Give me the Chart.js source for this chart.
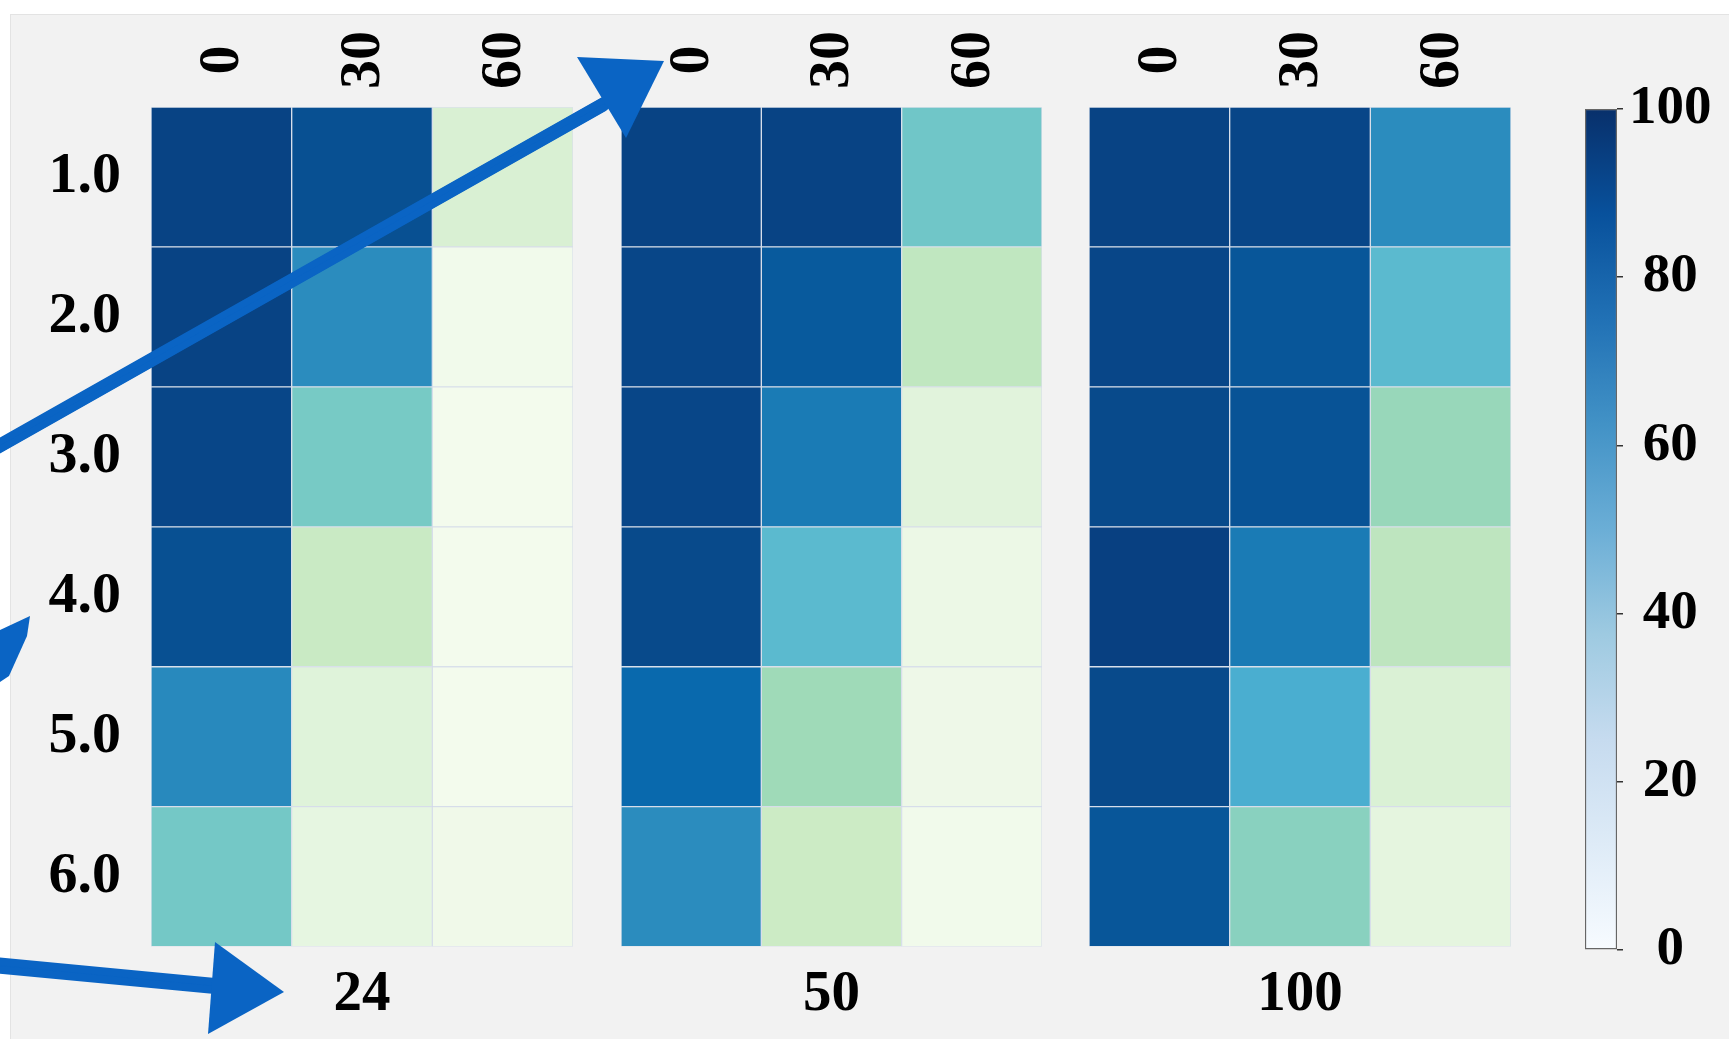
<!DOCTYPE html>
<html>
<head>
<meta charset="utf-8">
<title>Heatmap</title>
<script src="https://cdn.jsdelivr.net/npm/chart.js@4.4.1/dist/chart.umd.min.js"></script>
<style>
  html, body { margin: 0; padding: 0; background: #fff; width: 1729px; height: 1039px; overflow: hidden; }
  #frame { position: absolute; left: 10px; top: 14px; right: 0; bottom: 0; background: #f2f2f2;
           border-left: 1px solid #e3e3e3; border-top: 1px solid #e3e3e3; }
  canvas { position: absolute; top: 0; }
</style>
</head>
<body>
<div id="frame"></div>
<canvas id="p50" width="458" height="1039" style="left:600px"></canvas>
<canvas id="p100" width="446" height="1039" style="left:1070px"></canvas>
<canvas id="cbar" width="169" height="1039" style="left:1560px"></canvas>
<canvas id="p24" width="696" height="1039" style="left:0;z-index:5"></canvas>
<script>
const rowLabels = ['1.0', '2.0', '3.0', '4.0', '5.0', '6.0'];
const colLabels = ['0', '30', '60'];
const panelTitles = ['24', '50', '100'];
const barTicks = [0, 20, 40, 60, 80, 100];

// rows = 1.0 .. 6.0, columns = 0 / 30 / 60
const heat24 = [
    [99, 95, 17],
    [99, 75, 3],
    [98, 51, 2],
    [95, 26, 2],
    [76, 13, 2],
    [52, 9, 4]
];
const heat50 = [
    [99, 99, 53],
    [98, 92, 29],
    [98, 81, 12],
    [97, 59, 6],
    [87, 40, 5],
    [75, 25, 3]
];
const heat100 = [
    [99, 98, 75],
    [98, 93, 59],
    [97, 94, 42],
    [100, 81, 30],
    [97, 64, 16],
    [93, 46, 10]
];

const gnbu = ['#f7fcf0', '#e0f3db', '#ccebc5', '#a8ddb5', '#7bccc4', '#4eb3d3', '#2b8cbe', '#0868ac', '#084081'];
const blues = ['#f7fbff', '#deebf7', '#c6dbef', '#9ecae1', '#6baed6', '#4292c6', '#2171b5', '#08519c', '#08306b'];

const serif = 'Liberation Serif';
const ink = '#000';

function hexRgb(h) {
    return [1, 3, 5].map(i => parseInt(h.substr(i, 2), 16));
}

function rampColor(stops, t) {
    t = Math.max(0, Math.min(1, t));
    const pos = t * (stops.length - 1);
    const i = Math.min(Math.floor(pos), stops.length - 2);
    const f = pos - i;
    const a = hexRgb(stops[i]), b = hexRgb(stops[i + 1]);
    const c = a.map((v, k) => Math.round(v + (b[k] - v) * f));
    return `rgb(${c[0]}, ${c[1]}, ${c[2]})`;
}

// column labels on top, rotated, centred over each column
const colTicks = {
    id: 'colTicks',
    afterDraw(chart) {
        const ctx = chart.ctx;
        const xs = chart.scales.x;
        ctx.save();
        ctx.fillStyle = ink;
        ctx.font = `bold 58px "${serif}"`;
        ctx.textAlign = 'center';
        ctx.textBaseline = 'middle';
        colLabels.forEach((lab, j) => {
            ctx.save();
            ctx.translate(xs.getPixelForValue(j + 0.5) + 2, chart.chartArea.top - 47);
            ctx.rotate(-Math.PI / 2);
            ctx.fillText(lab, 0, 0);
            ctx.restore();
        });
        ctx.restore();
    }
};

// rough marker stroke: a few overlapping passes
function roughLine(ctx, pts, width) {
    [[0, 0, width], [0, -width * 0.3, width * 0.55], [0, width * 0.3, width * 0.55]].forEach(([dx, dy, w]) => {
        ctx.lineWidth = w;
        ctx.beginPath();
        ctx.moveTo(pts[0][0] + dx, pts[0][1] + dy);
        for (let i = 1; i < pts.length; i++) ctx.lineTo(pts[i][0] + dx, pts[i][1] + dy);
        ctx.stroke();
    });
}

// the hand drawn blue arrows on top of the figure
const arrows = {
    id: 'arrows',
    afterDraw(chart) {
        const ctx = chart.ctx;
        ctx.save();
        ctx.strokeStyle = '#0a64c4';
        ctx.fillStyle = '#0a64c4';
        ctx.lineCap = 'round';
        ctx.lineJoin = 'round';

        roughLine(ctx, [[-6, 449], [604, 104]], 13);
        ctx.beginPath();
        ctx.moveTo(577, 57);
        ctx.lineTo(664, 61);
        ctx.lineTo(626, 138);
        ctx.closePath();
        ctx.fill();

        ctx.beginPath();
        ctx.moveTo(0, 630);
        ctx.lineTo(30, 616);
        ctx.lineTo(27, 636);
        ctx.lineTo(9, 676);
        ctx.lineTo(0, 682);
        ctx.closePath();
        ctx.fill();

        roughLine(ctx, [[-6, 965], [215, 986]], 14);
        ctx.beginPath();
        ctx.moveTo(215, 942);
        ctx.lineTo(284, 992);
        ctx.lineTo(208, 1034);
        ctx.closePath();
        ctx.fill();
        ctx.restore();
    }
};

function makePanel(id, values, title, padLeft, padRight, showRows, extra) {
    const yAxis = {
        type: 'category',
        stacked: true,
        display: showRows,
        grid: { display: false },
        border: { display: false },
        ticks: { padding: 22, color: ink, font: { family: serif, size: 58, weight: 'bold' } }
    };
    if (showRows) {
        yAxis.afterFit = s => { s.width = 151; };
    }
    return new Chart(document.getElementById(id), {
        type: 'bar',
        data: {
            labels: rowLabels,
            datasets: colLabels.map((c, j) => ({
                label: c,
                data: rowLabels.map(() => 1),
                heat: values.map(r => r[j]),
                backgroundColor: values.map(r => rampColor(gnbu, r[j] / 100)),
                borderColor: 'rgba(200, 212, 230, 0.55)',
                borderWidth: 1,
                borderSkipped: false,
                barPercentage: 1,
                categoryPercentage: 1
            }))
        },
        options: {
            indexAxis: 'y',
            responsive: false,
            animation: false,
            layout: { padding: { top: 107, left: padLeft, right: padRight, bottom: 0 } },
            scales: {
                x: { type: 'linear', stacked: true, min: 0, max: colLabels.length, display: false },
                y: yAxis
            },
            plugins: {
                legend: { display: false },
                title: {
                    display: true,
                    text: title,
                    position: 'bottom',
                    fullSize: false,
                    color: ink,
                    font: { family: serif, size: 57, weight: 'bold' },
                    padding: { top: 14, bottom: 10 }
                },
                tooltip: {
                    callbacks: {
                        title: items => 'row ' + items[0].label,
                        label: c => `${c.dataset.label}: ${c.dataset.heat[c.dataIndex]}`
                    }
                }
            }
        },
        plugins: [colTicks].concat(extra || [])
    });
}

makePanel('p24', heat24, panelTitles[0], 0, 123, true, [arrows]);
makePanel('p50', heat50, panelTitles[1], 21, 16, false);
makePanel('p100', heat100, panelTitles[2], 19, 5, false);

// colour bar
new Chart(document.getElementById('cbar'), {
    type: 'bar',
    data: {
        labels: [''],
        datasets: [{
            data: [[barTicks[0], barTicks[barTicks.length - 1]]],
            backgroundColor: c => {
                const area = c.chart.chartArea;
                if (!area) return 'transparent';
                const g = c.chart.ctx.createLinearGradient(0, area.bottom, 0, area.top);
                blues.forEach((col, i) => g.addColorStop(i / (blues.length - 1), col));
                return g;
            },
            borderColor: '#666',
            borderWidth: 1.5,
            borderSkipped: false,
            barPercentage: 1,
            categoryPercentage: 1
        }]
    },
    options: {
        responsive: false,
        animation: false,
        layout: { padding: { top: 109, bottom: 89, left: 25, right: 0 } },
        scales: {
            x: { display: false },
            y: {
                position: 'right',
                min: barTicks[0],
                max: barTicks[barTicks.length - 1],
                afterBuildTicks: s => { s.ticks = barTicks.map(v => ({ value: v })); },
                afterFit: s => { s.width = 112; },
                grid: { drawOnChartArea: false, drawTicks: true, tickLength: 6, color: '#333', lineWidth: 1.5 },
                border: { display: false },
                ticks: { crossAlign: 'center', padding: 6, color: ink, font: { family: serif, size: 55, weight: 'bold' } }
            }
        },
        plugins: { legend: { display: false }, tooltip: { enabled: false } }
    }
});
</script>
</body>
</html>
